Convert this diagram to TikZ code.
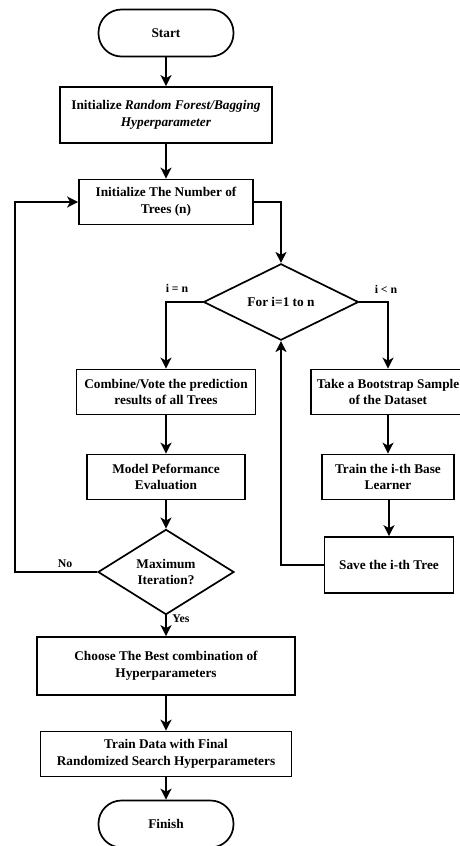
\documentclass[tikz,border=0pt]{standalone}
\usepackage{fontspec}
\setmainfont{Liberation Serif}
\usetikzlibrary{arrows.meta,shapes.geometric,positioning}
\tikzstyle{block}=[draw,rectangle,line width=1.7pt,inner sep=0pt,align=center,font=\fontsize{13.3}{16.7}\selectfont\bfseries]
\tikzstyle{terminal}=[block,rounded corners=23pt,minimum width=135pt,minimum height=47pt]
\tikzstyle{decision}=[block,diamond,inner sep=0pt]
\tikzstyle{flow}=[line width=1.7pt,-{Stealth[length=11pt,width=11pt,inset=3pt]}]
\tikzstyle{lbl}=[font=\fontsize{11.8}{14}\selectfont\bfseries,inner sep=0pt]
\newcommand{\stepbox}[5]{\node[block,minimum width=#3,minimum height=#4] (#1) at (#2) {#5};}

\begin{document}
\begin{tikzpicture}[x=1pt,y=-1pt]
    \useasboundingbox (0,0) rectangle (459,846);

    \node[terminal] (start) at (166,33) {Start};
    \stepbox{initrf}{166,115}{212pt}{56pt}{Initialize \textit{Random Forest/Bagging}\\\textit{Hyperparameter}}
    \stepbox{initn}{166,202}{174pt}{45pt}{Initialize The Number of\\Trees (n)}
    \node[decision,minimum width=155pt,minimum height=68pt] (loop) at (281,302) {For i=1 to n};

    \stepbox{combine}{166,392}{179pt}{45pt}{Combine/Vote the prediction\\results of all Trees}
    \stepbox{evalm}{166,477}{158pt}{45pt}{Model Peformance\\Evaluation}
    \node[decision,minimum width=136pt,minimum height=66pt] (maxit) at (166,572) {Maximum\\Iteration?};
    \stepbox{best}{166,666}{258pt}{58pt}{Choose The Best combination of\\Hyperparameters}
    \stepbox{final}{166,754}{251pt}{45pt}{Train Data with Final\\Randomized Search Hyperparameters}
    \node[terminal] (finish) at (166,824) {Finish};

    \stepbox{sample}{388,392}{154pt}{45pt}{Take a Bootstrap Sample\\of the Dataset}
    \stepbox{learner}{388,477}{132pt}{45pt}{Train the i-th Base\\Learner}
    \stepbox{save}{389,565}{129pt}{56pt}{Save the i-th Tree}

    \coordinate (noturn) at (15,572);

    \draw[flow] (start) -- (initrf);
    \draw[flow] (initrf) -- (initn);
    \draw[flow] (initn.east) -| (loop.north);
    \draw[flow] (loop.west) -| (combine.north);
    \draw[flow] (loop.east) -| (sample.north);
    \draw[flow] (combine) -- (evalm);
    \draw[flow] (evalm) -- (maxit.north);
    \draw[flow] (maxit.south) -- (best);
    \draw[flow] (best) -- (final);
    \draw[flow] (final) -- (finish);
    \draw[flow] (sample) -- (sample |- learner.north);
    \draw[flow] (learner.south -| save) -- (save);
    \draw[flow] (save.west) -| (loop.south);
    \draw[flow] (maxit.west) -- (noturn) |- (initn.west);

    \node[lbl] (ieq) at (177,288) {i = n};
    \node[lbl] (ilt) at (386,289) {i < n};
    \node[lbl] (lno) at (65,564) {No};
    \node[lbl] (lyes) at (181,619) {Yes};
\end{tikzpicture}
\end{document}
